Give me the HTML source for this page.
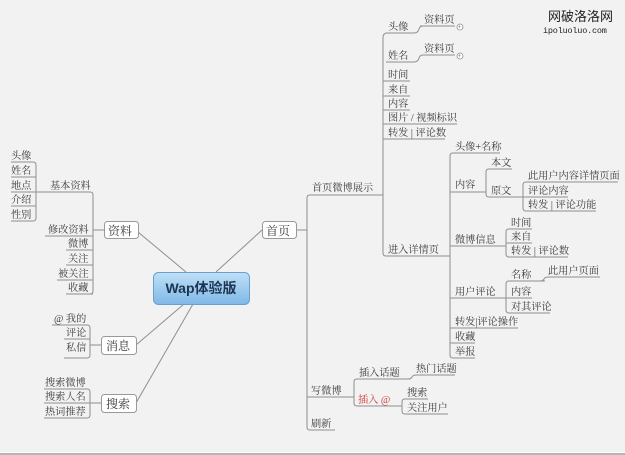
<!DOCTYPE html>
<html><head><meta charset="utf-8">
<style>
html,body{margin:0;padding:0;background:#f2f2f2;}
svg{display:block}
text{font-family:"Liberation Serif","Noto Serif CJK SC",serif;font-size:10.2px;fill:#3a3a3a;}
</style></head><body>
<svg width="625" height="455" viewBox="0 0 625 455" xmlns="http://www.w3.org/2000/svg">
<defs>
<linearGradient id="g" x1="0" y1="0" x2="0" y2="1">
<stop offset="0" stop-color="#bfe0f7"/><stop offset="1" stop-color="#7fb8e6"/>
</linearGradient>
</defs>
<rect width="625" height="452" fill="#f2f2f2"/>
<rect y="452" width="625" height="1" fill="#fff"/>
<rect y="453" width="625" height="2" fill="#b5b5b5"/>

<g stroke="#8f8f8f" stroke-width="1" fill="none">
<line x1="138" y1="232" x2="186" y2="272"/>
<line x1="216" y1="272" x2="262" y2="230"/>
<line x1="184" y1="304" x2="136" y2="345"/>
<line x1="193" y1="304" x2="136" y2="403"/>
<line x1="104" y1="230" x2="93" y2="230"/>
<path d="M50,192 H90 Q93,192 93,195 V291 Q93,294 90,294"/>
<line x1="45" y1="236" x2="93" y2="236"/>
<line x1="66" y1="250" x2="93" y2="250"/>
<line x1="66" y1="265" x2="93" y2="265"/>
<line x1="57" y1="280" x2="93" y2="280"/>
<line x1="66" y1="294" x2="93" y2="294"/>
<path d="M50,192 H36 M11,162 H33 Q36,162 36,165 V218 Q36,221 33,221 H11"/>
<line x1="11" y1="177" x2="36" y2="177"/>
<line x1="11" y1="192" x2="36" y2="192"/>
<line x1="11" y1="206" x2="36" y2="206"/>
<line x1="101" y1="345" x2="90" y2="345"/>
<path d="M52,325 H87 Q90,325 90,328 V355 Q90,358 87,358 H64"/>
<line x1="64" y1="339" x2="90" y2="339"/>
<line x1="101" y1="403" x2="90" y2="403"/>
<path d="M44,389 H87 Q90,389 90,392 V415 Q90,418 87,418 H44"/>
<line x1="44" y1="403" x2="90" y2="403"/>
<line x1="296" y1="230" x2="307" y2="230"/>
<path d="M383,195 H310 Q307,195 307,198 V427 Q307,430 310,430 H335"/>
<line x1="307" y1="397" x2="354" y2="397"/>
<path d="M420,26 H455 M386,33 H414 Q418,33 419,29 Q420,26 423,26"/>
<path d="M386,62 H414 Q418,62 419,58 Q420,55 423,55 H455"/>
<path d="M383,253 V38 Q383,33 387,33"/>
<line x1="383" y1="81" x2="410" y2="81"/>
<line x1="383" y1="96" x2="410" y2="96"/>
<line x1="383" y1="110" x2="410" y2="110"/>
<line x1="383" y1="124" x2="457" y2="124"/>
<line x1="383" y1="139" x2="445" y2="139"/>
<path d="M383,253 Q383,256 386,256 H449"/>
<path d="M449,256 H450 M500,153 H453 Q450,153 450,156 V355 Q450,358 453,358 H475"/>
<line x1="450" y1="192" x2="486" y2="192"/>
<line x1="450" y1="246" x2="506" y2="246"/>
<line x1="450" y1="298" x2="506" y2="298"/>
<line x1="450" y1="328" x2="518" y2="328"/>
<line x1="450" y1="343" x2="475" y2="343"/>
<path d="M512,169 H489 Q486,169 486,172 V194 Q486,197 489,197 H523"/>
<path d="M618,182 H526 Q523,182 523,185 V208 Q523,211 526,211 H596"/>
<line x1="523" y1="197" x2="568" y2="197"/>
<path d="M532,229 H509 Q506,229 506,232 V254 Q506,257 509,257 H568"/>
<line x1="506" y1="243" x2="532" y2="243"/>
<path d="M545,281 H509 Q506,281 506,284 V310 Q506,313 509,313 H550"/>
<line x1="506" y1="298" x2="532" y2="298"/>
<path d="M540,281 Q543,281 544,279 Q545,277 548,277 H600"/>
<path d="M410,379 H357 Q354,379 354,382 V403 Q354,406 357,406 H400"/>
<path d="M408,379 Q411,379 412,377 Q413,375 416,375 H455"/>
<path d="M400,406 H402 M428,399 H405 Q402,399 402,402 V411 Q402,414 405,414 H448"/>
</g>
<g fill="#fff" stroke="#8f8f8f" stroke-width="0.8">
<circle cx="460" cy="27" r="3"/><circle cx="460" cy="56" r="3"/>
</g>
<g fill="#555"><text x="457.8" y="29" style="font-size:6px">+</text><text x="457.8" y="58" style="font-size:6px">+</text></g>

<g stroke="#999" stroke-width="1" fill="#fff">
<rect x="262.5" y="221.5" width="34" height="17" rx="3"/>
<rect x="104.5" y="221.5" width="34" height="17" rx="3"/>
<rect x="101.5" y="336.5" width="35" height="18" rx="3"/>
<rect x="101.5" y="394.5" width="35" height="18" rx="3"/>
</g>
<rect x="153.5" y="272.5" width="96" height="32" rx="5" fill="url(#g)" stroke="#6a9fd0"/>
<text x="201" y="293" text-anchor="middle" style="font-family:'Liberation Sans','Noto Sans CJK SC',sans-serif;font-size:14px;font-weight:bold;fill:#1d3550">Wap体验版</text>
<text x="266" y="235" style="font-size:12px">首页</text>
<text x="108" y="235" style="font-size:12px">资料</text>
<text x="106" y="350" style="font-size:12px">消息</text>
<text x="106" y="408" style="font-size:12px">搜索</text>

<text x="11" y="159">头像</text><text x="11" y="174">姓名</text><text x="11" y="189">地点</text>
<text x="11" y="203">介绍</text><text x="11" y="218">性别</text>
<text x="50" y="189">基本资料</text>
<text x="48" y="233">修改资料</text><text x="68" y="247">微博</text><text x="68" y="262">关注</text>
<text x="58" y="277">被关注</text><text x="68" y="291">收藏</text>
<text x="54" y="322">@ 我的</text><text x="66" y="336">评论</text><text x="66" y="351">私信</text>
<text x="45" y="386">搜索微博</text><text x="45" y="400">搜索人名</text><text x="45" y="415">热词推荐</text>

<text x="312" y="191">首页微博展示</text>
<text x="311" y="394">写微博</text>
<text x="311" y="427">刷新</text>
<text x="388" y="30">头像</text><text x="424" y="23">资料页</text>
<text x="388" y="59">姓名</text><text x="424" y="52">资料页</text>
<text x="388" y="78">时间</text><text x="388" y="93">来自</text><text x="388" y="107">内容</text>
<text x="388" y="121">图片 / 视频标识</text><text x="388" y="136">转发 | 评论数</text>
<text x="388" y="253">进入详情页</text>
<text x="455" y="150">头像+名称</text>
<text x="455" y="188">内容</text>
<text x="491" y="166">本文</text><text x="491" y="194">原文</text>
<text x="528" y="179">此用户内容详情页面</text><text x="528" y="194">评论内容</text><text x="528" y="208">转发 | 评论功能</text>
<text x="455" y="243">微博信息</text>
<text x="511" y="226">时间</text><text x="511" y="240">来自</text><text x="511" y="254">转发 | 评论数</text>
<text x="455" y="295">用户评论</text>
<text x="511" y="278">名称</text><text x="548" y="274">此用户页面</text>
<text x="511" y="295">内容</text><text x="511" y="310">对其评论</text>
<text x="455" y="325">转发|评论操作</text><text x="455" y="340">收藏</text><text x="455" y="355">举报</text>
<text x="359" y="376">插入话题</text><text x="416" y="372">热门话题</text>
<text x="358" y="403" style="fill:#d23a3a">插入 @</text>
<text x="407" y="396">搜索</text><text x="407" y="411">关注用户</text>

<text x="548" y="21" style="font-family:'Noto Sans CJK SC',sans-serif;font-size:13px;fill:#222">网破洛洛网</text>
<text x="543" y="33" style="font-family:'Liberation Mono',monospace;font-size:8.5px;fill:#222;letter-spacing:-0.2px">ipoluoluo.com</text>
</svg>
</body></html>
